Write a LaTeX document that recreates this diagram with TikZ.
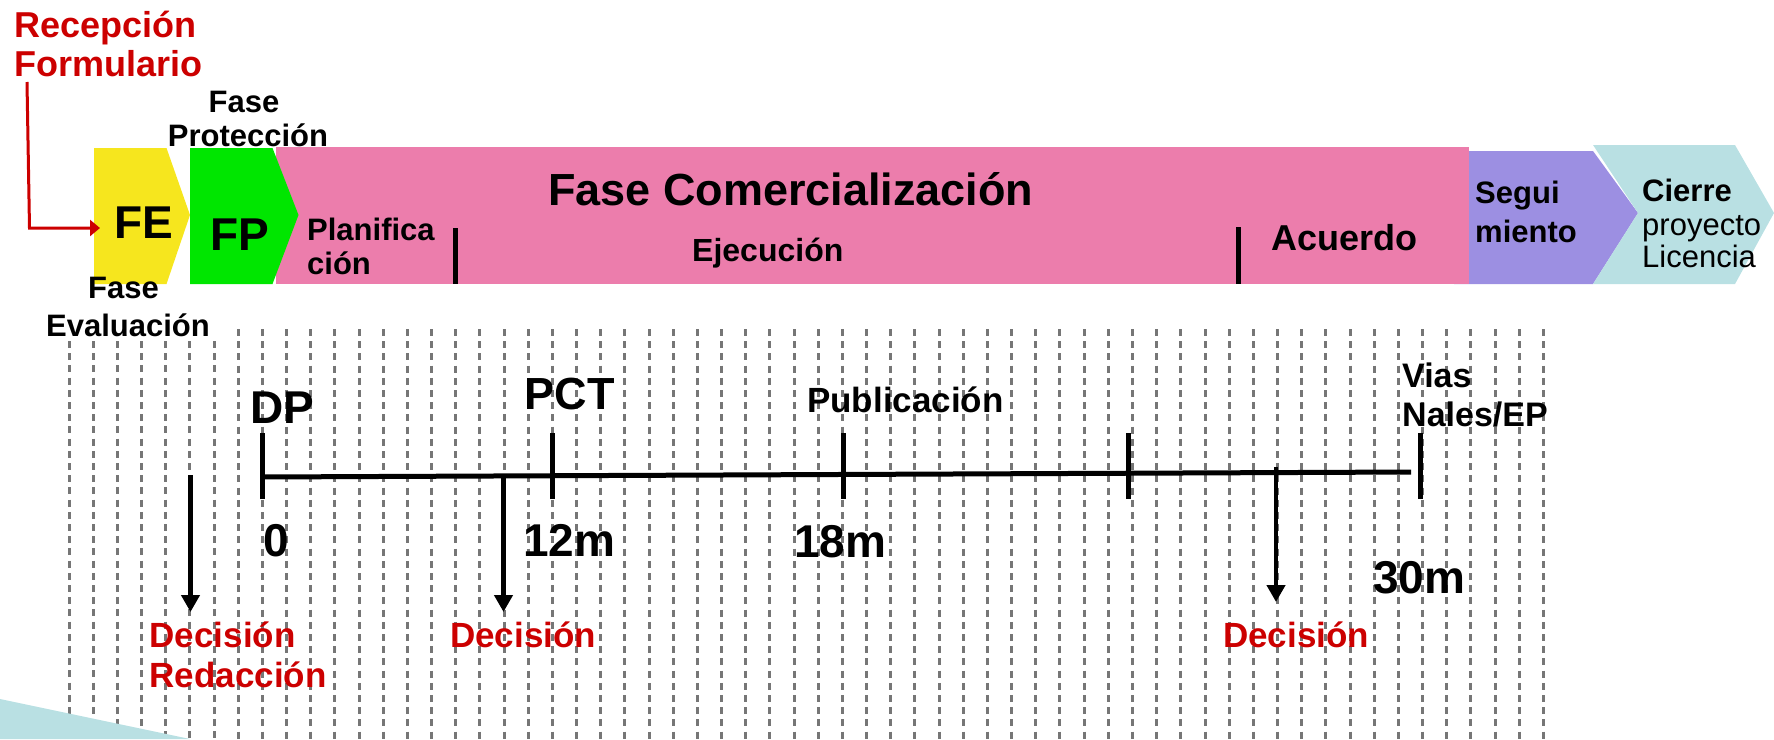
\documentclass[tikz,border=0pt]{standalone}
\usepackage{fontspec}
\setmainfont{Liberation Sans}
\usetikzlibrary{arrows.meta}
\definecolor{yellowF}{RGB}{246,230,30}
\definecolor{greenF}{RGB}{0,230,0}
\definecolor{pinkF}{RGB}{236,125,172}
\definecolor{purpleF}{RGB}{156,143,226}
\definecolor{cyanF}{RGB}{185,224,227}
\definecolor{redT}{RGB}{204,0,0}
\definecolor{dashG}{RGB}{118,118,118}
\begin{document}
\begin{tikzpicture}[x=1pt,y=-1pt,
  txt/.style={inner sep=0pt, anchor=base west, font=\bfseries\fontsize{#1}{#1}\selectfont},
  reg/.style={inner sep=0pt, anchor=base west, font=\fontsize{#1}{#1}\selectfont},
  redtxt/.style={txt=#1, text=redT},
  grid/.style={dashG, line width=3pt, dash pattern=on 7pt off 5.2pt},
  bar/.style={line width=5pt},
  tick/.style={line width=5pt},
  tl/.style={line width=5pt},
  darr/.style={line width=4.5pt, -{Triangle[length=17pt,width=18pt]}},
  rarr/.style={line width=3pt, redT, -{Triangle[length=10pt,width=16pt]}}]
\useasboundingbox (0,0) rectangle (1774,739);

% dashed grid
\foreach \k in {0,...,61}{
  \pgfmathsetmacro\xx{69+24.17*\k}
  \pgfmathsetmacro\yy{\k<7 ? 341 : 329}
  \draw[grid] (\xx,\yy) -- (\xx,739);
}
\fill[cyanF] (0,699) -- (190,739) -- (0,739) -- cycle;

% phase bar
\fill[yellowF] (94,148) -- (166.5,148) -- (190,215) -- (166.5,284) -- (94,284) -- cycle;
\fill[purpleF] (1454,151) -- (1593,151) -- (1638,213) -- (1593,284) -- (1454,284) -- cycle;
\fill[cyanF] (1593,145) -- (1735,145) -- (1774,213) -- (1735,284) -- (1593,284) -- (1638,213) -- cycle;
\fill[pinkF] (276,147) rectangle (1469,284);
\fill[greenF] (190,148) -- (272.5,148) -- (298.5,215) -- (272.5,284) -- (190,284) -- cycle;

\draw[bar] (455.5,228) -- (455.5,284);
\draw[bar] (1238,227) -- (1238,284);

% texts top
\node[redtxt=36] (rec1) at (14,37) {Recepción};
\node[redtxt=36] (rec2) at (14,76) {Formulario};
\coordinate (rs) at (27,82);
\coordinate (rm) at (29.5,228);
\coordinate (re) at (100,228);
\draw[rarr] (rs) -- (rm) -- (re);

\node[txt=31, anchor=base] (fp1) at (244,112) {Fase};
\node[txt=31, anchor=base] (fp2) at (248,146) {Protección};
\node[txt=31, anchor=base] (fe1) at (123.5,298) {Fase};
\node[txt=31, anchor=base] (fe2) at (128,336) {Evaluación};

\node[txt=46] (fe) at (114,238) {FE};
\node[txt=46] (fp) at (210.5,250) {FP};
\node[txt=45] (fc) at (548,205) {Fase Comercialización};
\node[txt=31] (pl1) at (307,240) {Planifica};
\node[txt=31] (pl2) at (307,274) {ción};
\node[txt=32] (ej) at (692,261) {Ejecución};
\node[txt=36] (ac) at (1271,250) {Acuerdo};
\node[txt=31] (sg1) at (1475,203) {Segui};
\node[txt=31] (sg2) at (1475,242) {miento};
\node[txt=31] (ci1) at (1642,201) {Cierre};
\node[reg=31] (ci2) at (1642,235) {proyecto};
\node[reg=31] (ci3) at (1642,267) {Licencia};

% timeline
\coordinate (t0) at (262,477);
\coordinate (t5) at (1411,472);
\draw[tl] (t0) -- (t5);
\foreach \x in {262,552,843,1128,1420}{\draw[tick] (\x,433) -- (\x,499);}

\node[txt=46] (dp) at (250,423) {DP};
\node[txt=45] (pct) at (524.5,409) {PCT};
\node[txt=35] (pub) at (807,412) {Publicación};
\node[txt=34] (vi1) at (1402,387) {Vias};
\node[txt=34] (vi2) at (1402,426) {Nales/EP};

\node[txt=46] (m0) at (263,556) {0};
\node[txt=46] (m12) at (523,556) {12m};
\node[txt=46] (m18) at (794,557) {18m};
\node[txt=46] (m30) at (1373,593) {30m};

\coordinate (a1s) at (190.5,475);
\coordinate (a1e) at (190.5,612);
\coordinate (a2s) at (503.5,476);
\coordinate (a2e) at (503.5,612);
\coordinate (a3s) at (1276,467);
\coordinate (a3e) at (1276,602);
\draw[darr] (a1s) -- (a1e);
\draw[darr] (a2s) -- (a2e);
\draw[darr] (a3s) -- (a3e);

\node[redtxt=35] (d1) at (149.5,647) {Decisión};
\node[redtxt=35] (d1b) at (149.5,687) {Redacción};
\node[redtxt=35] (d2) at (450,647) {Decisión};
\node[redtxt=35] (d3) at (1223,647) {Decisión};
\end{tikzpicture}
\end{document}
